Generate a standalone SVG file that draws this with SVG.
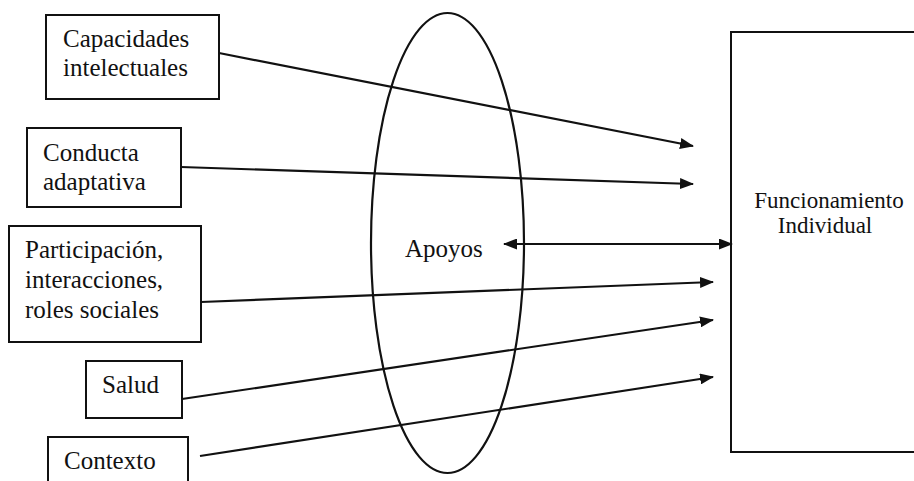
<svg xmlns="http://www.w3.org/2000/svg" width="914" height="481" viewBox="0 0 914 481">
<style>
.box{fill:#fff;stroke:#111;stroke-width:2}
.t{font-size:25px;fill:#111}
.t2{font-size:23px;fill:#111}
.c{stroke:#111;stroke-width:2.2;fill:none}
</style>
<defs>
<marker id="ah" markerWidth="14" markerHeight="11" refX="13" refY="5.5" orient="auto-start-reverse" markerUnits="userSpaceOnUse">
<path d="M0,0 L14,5.5 L0,11 Z" fill="#111"/>
</marker>
</defs>
<rect width="914" height="481" fill="#fff"/>
<g font-family="Liberation Serif, DejaVu Serif, Times New Roman, serif">
<g id="apoyos">
<ellipse cx="447.5" cy="243" rx="76.5" ry="230" class="c"/>
<text class="t" x="405" y="257">Apoyos</text>
</g>
<g id="capacidades">
<rect class="box" x="46" y="15" width="173" height="84"/>
<text class="t" x="63" y="47">Capacidades</text>
<text class="t" x="63" y="76">intelectuales</text>
</g>
<g id="conducta">
<rect class="box" x="27" y="128" width="154" height="79"/>
<text class="t" x="43" y="161">Conducta</text>
<text class="t" x="43" y="190">adaptativa</text>
</g>
<g id="participacion">
<rect class="box" x="9" y="226" width="192" height="116"/>
<text class="t" x="25" y="258">Participación,</text>
<text class="t" x="25" y="288">interacciones,</text>
<text class="t" x="25" y="318">roles sociales</text>
</g>
<g id="salud">
<rect class="box" x="86" y="361" width="96" height="57"/>
<text class="t" x="102" y="393">Salud</text>
</g>
<g id="contexto">
<rect class="box" x="48" y="437" width="140" height="60"/>
<text class="t" x="64" y="469">Contexto</text>
</g>
<g id="funcionamiento">
<rect class="box" x="731" y="32" width="200" height="420"/>
<text class="t2" x="829" y="208" text-anchor="middle">Funcionamiento</text>
<text class="t2" x="825" y="233" text-anchor="middle">Individual</text>
</g>
</g>
<g id="connectors">
<line class="c" x1="219" y1="53" x2="693" y2="146" marker-end="url(#ah)"/>
<line class="c" x1="181" y1="167" x2="693" y2="184" marker-end="url(#ah)"/>
<line class="c" x1="504" y1="244" x2="732" y2="244" marker-start="url(#ah)" marker-end="url(#ah)"/>
<line class="c" x1="201" y1="302" x2="713" y2="282" marker-end="url(#ah)"/>
<line class="c" x1="182" y1="399" x2="713" y2="320" marker-end="url(#ah)"/>
<line class="c" x1="200" y1="456" x2="713" y2="377" marker-end="url(#ah)"/>
</g>
</svg>
